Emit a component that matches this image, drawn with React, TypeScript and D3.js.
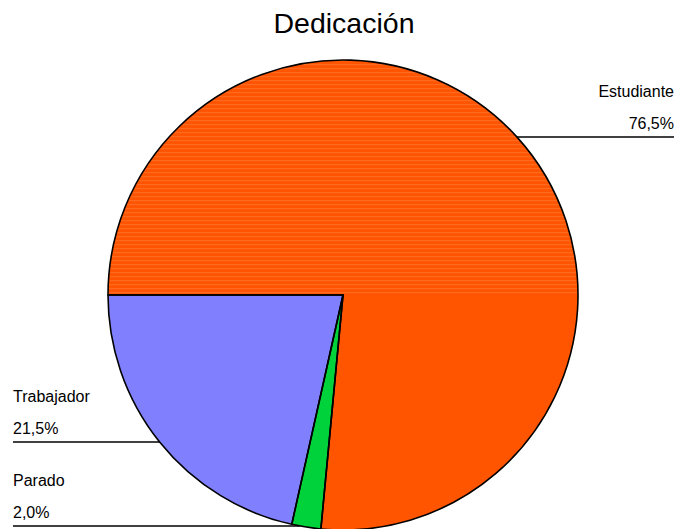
import React from "react";
import * as d3 from "d3";

const categories = ["Estudiante", "Parado", "Trabajador"];
const values = [76.5, 2.0, 21.5];
const valueLabels = ["76,5%", "2,0%", "21,5%"];
const colors = ["#FF5500", "#00D23C", "#8080FF"];

const W = 678;
const H = 529;
const CX = 343;
const CY = 295;
const R = 235;
// label line y-offsets relative to center, and side
const labelLineY = [-158, 231, 147];
const labelSide = [1, -1, -1];

export default function App() {
  const pie = d3
    .pie<number>()
    .sort(null)
    .value((d) => d)
    .startAngle(-Math.PI / 2)
    .endAngle((3 * Math.PI) / 2);
  const arcs = pie(values);
  const arc = d3.arc<d3.PieArcDatum<number>>().innerRadius(0).outerRadius(R);

  const stripes = d3.range(-R, 0, 4);

  return (
    <svg
      width={W}
      height={H}
      style={{ position: "absolute", left: 0, top: 0, background: "#fff" }}
      fontFamily="'Liberation Sans', Arial, sans-serif"
    >
      <defs>
        <clipPath id="estClip">
          <path d={arc(arcs[0]) || ""} transform={`translate(${CX},${CY})`} />
        </clipPath>
      </defs>
      <text x={344} y={33} textAnchor="middle" fontSize={28.5} fill="#000">
        Dedicación
      </text>
      <g transform={`translate(${CX},${CY})`}>
        {arcs.map((a, i) => (
          <path key={categories[i]} d={arc(a) || ""} fill={colors[i]} />
        ))}
      </g>
      <g clipPath="url(#estClip)">
        {stripes.map((s, i) => (
          <rect
            key={i}
            x={CX - R}
            y={CY + s}
            width={2 * R}
            height={1.2}
            fill="#FF7A3A"
            opacity={0.55}
          />
        ))}
      </g>
      <g transform={`translate(${CX},${CY})`}>
        {arcs.map((a, i) => (
          <path
            key={categories[i]}
            d={arc(a) || ""}
            fill="none"
            stroke="#000"
            strokeWidth={1.6}
            strokeLinejoin="round"
          />
        ))}
      </g>
      {arcs.map((a, i) => {
        const ly = CY + labelLineY[i];
        const dx = Math.sqrt(Math.max(0, R * R - labelLineY[i] * labelLineY[i]));
        const side = labelSide[i];
        const edgeX = CX + side * dx;
        const outerX = side > 0 ? 674 : 13;
        const tx = side > 0 ? 674 : 13;
        const anchor = side > 0 ? "end" : "start";
        return (
          <g key={categories[i]}>
            <line
              x1={edgeX}
              x2={outerX}
              y1={ly}
              y2={ly}
              stroke="#000"
              strokeWidth={1.3}
            />
            <text x={tx} y={ly - 40} textAnchor={anchor} fontSize={16} fill="#000">
              {categories[i]}
            </text>
            <text x={tx} y={ly - 8} textAnchor={anchor} fontSize={16} fill="#000">
              {valueLabels[i]}
            </text>
          </g>
        );
      })}
    </svg>
  );
}
